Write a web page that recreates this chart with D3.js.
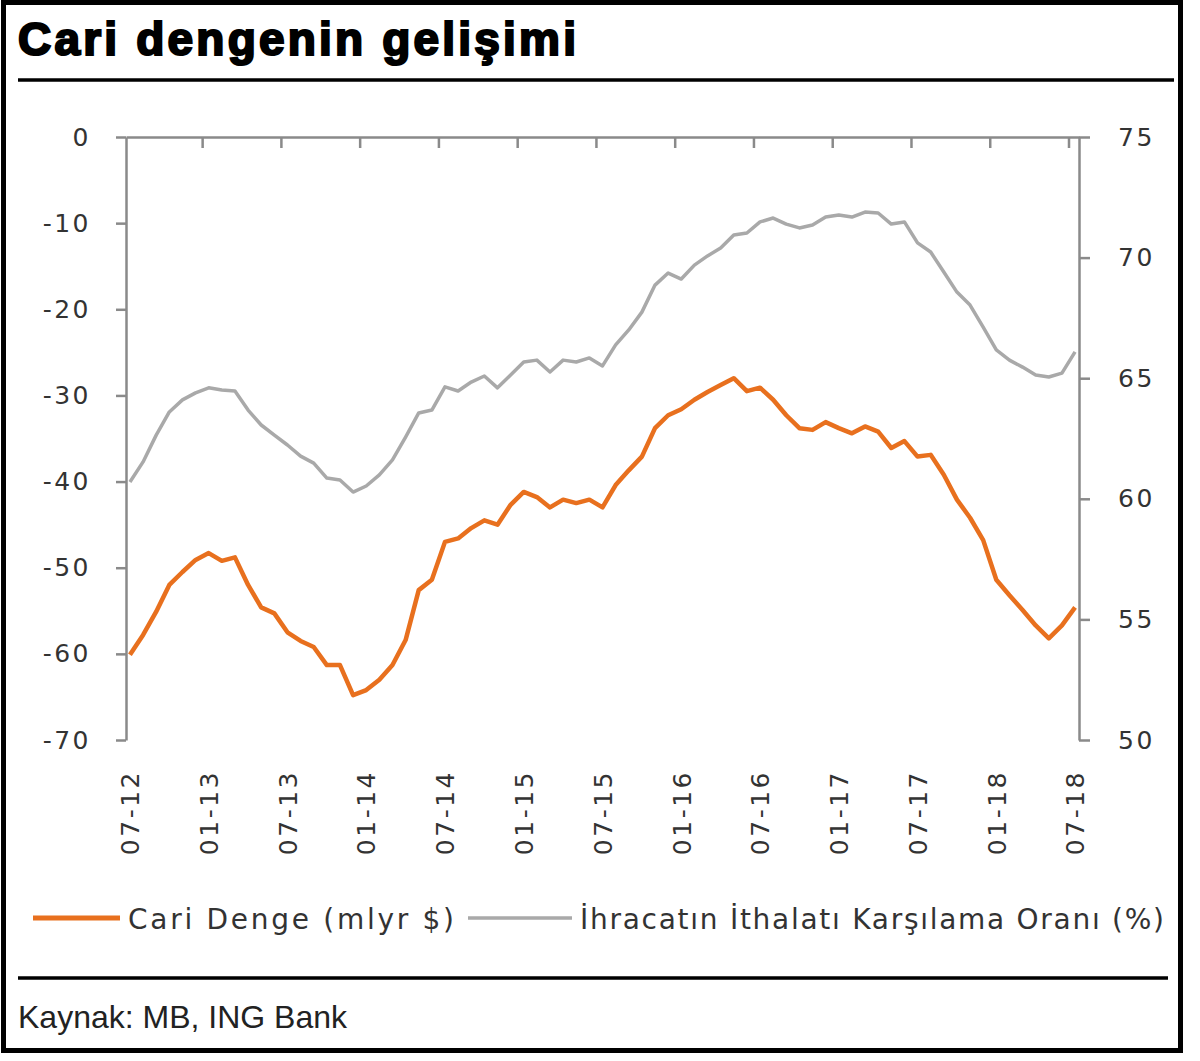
<!DOCTYPE html>
<html>
<head>
<meta charset="utf-8">
<script src="https://cdn.jsdelivr.net/npm/d3@7"></script>
<style>
  body { margin: 0; background: #fff; }
  svg { display: block; }
</style>
</head>
<body>
<svg id="chart" width="1200" height="1061"></svg>
<script>
// aylık seri: 07-2012 .. 07-2018
const tickLabels = ["07-12","01-13","07-13","01-14","07-14","01-15","07-15","01-16","07-16","01-17","07-17","01-18","07-18"];

const cariDenge = [
  -60.1,-57.8,-55.1,-52.0,-50.5,-49.1,-48.3,-49.2,-48.8,-52.0,-54.6,-55.3,
  -57.5,-58.5,-59.2,-61.3,-61.3,-64.8,-64.2,-63.0,-61.3,-58.4,-52.6,-51.4,
  -47.0,-46.6,-45.4,-44.5,-45.0,-42.7,-41.2,-41.8,-43.0,-42.1,-42.5,-42.1,
  -43.0,-40.4,-38.7,-37.1,-33.8,-32.3,-31.6,-30.5,-29.6,-28.8,-28.0,-29.5,
  -29.1,-30.5,-32.3,-33.8,-34.0,-33.1,-33.8,-34.4,-33.6,-34.2,-36.1,-35.3,
  -37.1,-36.9,-39.2,-42.1,-44.2,-46.8,-51.4,-53.2,-54.9,-56.7,-58.2,-56.7,
  -54.6
];

const karsilama = [
  60.70,61.53,62.64,63.60,64.10,64.39,64.60,64.51,64.47,63.68,63.06,62.64,
  62.23,61.77,61.48,60.86,60.78,60.28,60.53,60.99,61.61,62.56,63.56,63.68,
  64.64,64.47,64.84,65.09,64.60,65.13,65.67,65.75,65.26,65.75,65.67,65.84,
  65.51,66.38,67.00,67.74,68.86,69.36,69.11,69.69,70.07,70.40,70.94,71.02,
  71.48,71.64,71.39,71.23,71.35,71.68,71.77,71.68,71.89,71.85,71.39,71.48,
  70.61,70.23,69.40,68.57,68.03,67.12,66.17,65.75,65.46,65.13,65.05,65.21,
  66.09
];

const leftTicks = [0,-10,-20,-30,-40,-50,-60,-70];
const rightTicks = [50,55,60,65,70,75];

const ORANGE = "#e8701e";
const GREY = "#a9a9a9";
const AXIS = "#8a8a8a";
const TXT = "#333";

const svg = d3.select("#chart");

// çerçeve
svg.append("rect").attr("x", 3.5).attr("y", 2.5).attr("width", 1177).attr("height", 1048)
  .attr("fill", "none").attr("stroke", "#000").attr("stroke-width", 5);

svg.append("text").attr("x", 18).attr("y", 55)
  .attr("font-family", "Liberation Sans, Arial, sans-serif").attr("font-weight", "bold")
  .attr("font-size", 46).attr("letter-spacing", 3.2)
  .attr("fill", "#000").attr("stroke", "#000").attr("stroke-width", 2.2)
  .text("Cari dengenin gelişimi");

svg.append("line").attr("x1", 18).attr("x2", 1174).attr("y1", 80).attr("y2", 80)
  .attr("stroke", "#000").attr("stroke-width", 3.5);
svg.append("line").attr("x1", 18).attr("x2", 1168).attr("y1", 978).attr("y2", 978)
  .attr("stroke", "#000").attr("stroke-width", 3.5);

svg.append("text").attr("x", 18).attr("y", 1028)
  .attr("font-family", "Liberation Sans, Arial, sans-serif").attr("font-size", 32)
  .attr("fill", "#222").text("Kaynak: MB, ING Bank");

// ölçekler
const idx = d3.range(cariDenge.length);
const x = d3.scaleLinear().domain([-0.3, 72.3]).range([126, 1079]);
const yL = d3.scaleLinear().domain([-70, 0]).range([740, 137]);
const yR = d3.scaleLinear().domain([50, 75]).range([740, 137]);

const tickFont = g => g.selectAll("text")
  .attr("font-family", "DejaVu Sans, Verdana, sans-serif")
  .attr("font-size", 25).attr("letter-spacing", 2.5).attr("fill", TXT);
const axisStyle = g => {
  g.selectAll("path, line").attr("stroke", AXIS).attr("stroke-width", 2.5);
};

// üst kategori ekseni (0 çizgisi), işaretler kategoriler arasında
const catTicks = d3.range(1, 13).map(k => k * 6 - 0.5);
svg.append("g").attr("transform", `translate(0,${yL(0)})`)
  .call(d3.axisBottom(x).tickValues(catTicks).tickSize(11).tickSizeOuter(0).tickFormat(""))
  .call(axisStyle);

// sol eksen (kısa çizgi eksi işareti)
svg.append("g").attr("transform", `translate(${x(-0.3)},0)`)
  .call(d3.axisLeft(yL).tickValues(leftTicks).tickSize(10).tickSizeOuter(0).tickPadding(25)
    .tickFormat(d => String(d)))
  .call(axisStyle).call(tickFont);

// sağ eksen
svg.append("g").attr("transform", `translate(${x(72.3)},0)`)
  .call(d3.axisRight(yR).tickValues(rightTicks).tickSize(11).tickSizeOuter(0).tickPadding(28))
  .call(axisStyle).call(tickFont);

// alt etiketler (dikey)
const labIdx = tickLabels.map((d, i) => i * 6);
svg.append("g").attr("transform", `translate(0,${yL(-70)})`)
  .call(d3.axisBottom(x).tickValues(labIdx).tickSize(0).tickFormat((d, i) => tickLabels[i]))
  .call(g => g.select(".domain").remove())
  .call(tickFont)
  .call(g => g.selectAll("text")
    .attr("text-anchor", "end").attr("dy", "0.35em")
    .attr("transform", "translate(0,30) rotate(-90)").attr("y", 0).attr("x", 0));

// seriler
const lineL = d3.line().x(i => x(i)).y(i => yL(cariDenge[i]));
const lineR = d3.line().x(i => x(i)).y(i => yR(karsilama[i]));

svg.append("path").datum(idx).attr("d", lineR)
  .attr("fill", "none").attr("stroke", GREY).attr("stroke-width", 3.5).attr("stroke-linejoin", "round");
svg.append("path").datum(idx).attr("d", lineL)
  .attr("fill", "none").attr("stroke", ORANGE).attr("stroke-width", 4.5).attr("stroke-linejoin", "round");

// lejant
const legend = [
  { name: "Cari Denge (mlyr $)", color: ORANGE, x1: 33, x2: 120, w: 5, len: 326 },
  { name: "İhracatın İthalatı Karşılama Oranı (%)", color: GREY, x1: 468, x2: 572, w: 3.5, len: 584 }
];
const lg = svg.append("g");
legend.forEach(d => {
  lg.append("line").attr("x1", d.x1).attr("x2", d.x2).attr("y1", 918).attr("y2", 918)
    .attr("stroke", d.color).attr("stroke-width", d.w);
  lg.append("text").attr("x", d.x2 + 8).attr("y", 929)
    .attr("font-family", "DejaVu Sans, Verdana, sans-serif").attr("font-size", 28)
    .attr("textLength", d.len).attr("lengthAdjust", "spacing")
    .attr("fill", TXT).text(d.name);
});
</script>
</body>
</html>
